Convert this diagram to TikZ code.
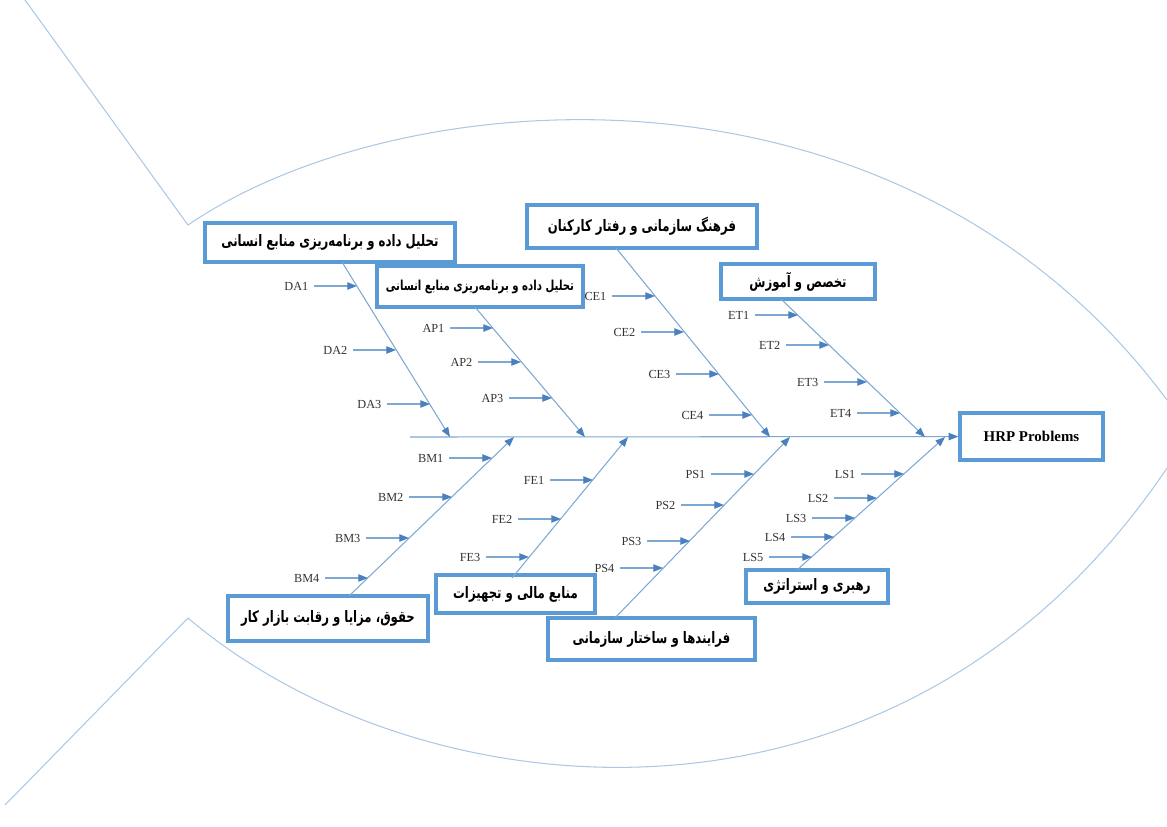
\documentclass[tikz,border=0pt]{standalone}
\usepackage{fontspec}
\setmainfont{Liberation Serif}
\newfontfamily\farsi[Script=Arabic, FakeStretch=0.74]{DejaVu Sans}
\TeXXeTstate=1
\usetikzlibrary{arrows.meta,positioning}
\definecolor{boxblue}{RGB}{91,155,213}
\definecolor{bonecol}{RGB}{125,168,212}
\definecolor{tipcol}{RGB}{74,128,190}
\definecolor{fishcol}{RGB}{172,200,228}
\newcommand{\fatxt}[1]{\farsi\beginR #1\endR}
\tikzset{
  cause/.style={draw=boxblue, line width=2pt, fill=white, inner sep=2pt,
    font=\farsi\bfseries\fontsize{9}{11}\selectfont},
  effect/.style={draw=boxblue, line width=2pt, fill=white,
    font=\bfseries\fontsize{8.5}{10}\selectfont},
  sub/.style={inner sep=3pt, text=black!80, font=\fontsize{7}{8}\selectfont},
  bone/.style={draw=bonecol, line width=0.6pt,
    -{Triangle[length=5.5pt,width=4.2pt,color=tipcol]}},
  fish/.style={draw=fishcol, line width=0.6pt}
}
\begin{document}
\begin{tikzpicture}[x=0.02cm, y=-0.02cm]
\useasboundingbox (0,0) rectangle (1167,826);

\draw[fish] (25,0) -- (188,225) .. controls (400,80) and (900,40) .. (1167,400);
\draw[fish] (5,805) -- (188,618) .. controls (420,815) and (900,865) .. (1167,468);

% head and spine
\node[effect, minimum width=2.86cm, minimum height=0.94cm] (HRP) at (1031.5,436.5) {HRP Problems};
\coordinate (tail) at (410,437);
\draw[bone] (tail) -- (HRP);

% main causes
\node[cause, minimum width=5cm, minimum height=0.78cm] (DA) at (330,242.5)
  {\fatxt{تحلیل داده و برنامه^^^^200cریزی منابع انسانی}};
\node[cause, minimum width=4.12cm, minimum height=0.82cm, font=\farsi\bfseries\fontsize{7.8}{9}\selectfont] (AP) at (480,286.5)
  {\fatxt{تحلیل داده و برنامه^^^^200cریزی منابع انسانی}};
\node[cause, minimum width=4.6cm, minimum height=0.86cm] (CE) at (642,226.5)
  {\fatxt{فرهنگ سازمانی و رفتار کارکنان}};
\node[cause, minimum width=3.08cm, minimum height=0.7cm] (ET) at (798,281.5)
  {\fatxt{تخصص و آموزش}};
\node[cause, minimum width=4cm, minimum height=0.9cm] (BM) at (328,618.5)
  {\fatxt{حقوق، مزایا و رقابت بازار کار}};
\node[cause, minimum width=3.18cm, minimum height=0.76cm] (FE) at (515.5,594)
  {\fatxt{منابع مالی و تجهیزات}};
\node[cause, minimum width=4.14cm, minimum height=0.84cm] (PS) at (651.5,639)
  {\fatxt{فرایندها و ساختار سازمانی}};
\node[cause, minimum width=2.84cm, minimum height=0.66cm] (LS) at (817,586.5)
  {\fatxt{رهبری و استراتژی}};

% bones
\foreach \b/\xa/\ya/\xb in {DA/342/262/450, AP/475/307/585, CE/616/248/770, ET/781/299/925,
    BM/349/596/514, FE/512/578/628, PS/615/618/790, LS/797/570/945} {
  \coordinate (\b s) at (\xa,\ya);
  \coordinate (\b e) at (\xb,437);
  \draw[bone] (\b s) -- (\b e);
}

% sub causes
\foreach \n/\x/\y in {DA1/357/286, DA2/396/350, DA3/430/404,
    AP1/493/328, AP2/521/362, AP3/552/398,
    CE1/655/296, CE2/684/332, CE3/719/374, CE4/752/415,
    ET1/798/315, ET2/829/345, ET3/867/382, ET4/900/413,
    BM1/492/458, BM2/452/497, BM3/409/538, BM4/368/578,
    FE1/593/480, FE2/561/519, FE3/529/557,
    PS1/754/474, PS2/724/505, PS3/690/541, PS4/663/568,
    LS1/904/474, LS2/877/498, LS3/855/518, LS4/834/537, LS5/812/557} {
  \coordinate (t\n) at (\x,\y);
  \node[sub, left=0.86cm of t\n] (\n) {\n};
  \draw[bone] (\n) -- (t\n);
}
\end{tikzpicture}
\end{document}
